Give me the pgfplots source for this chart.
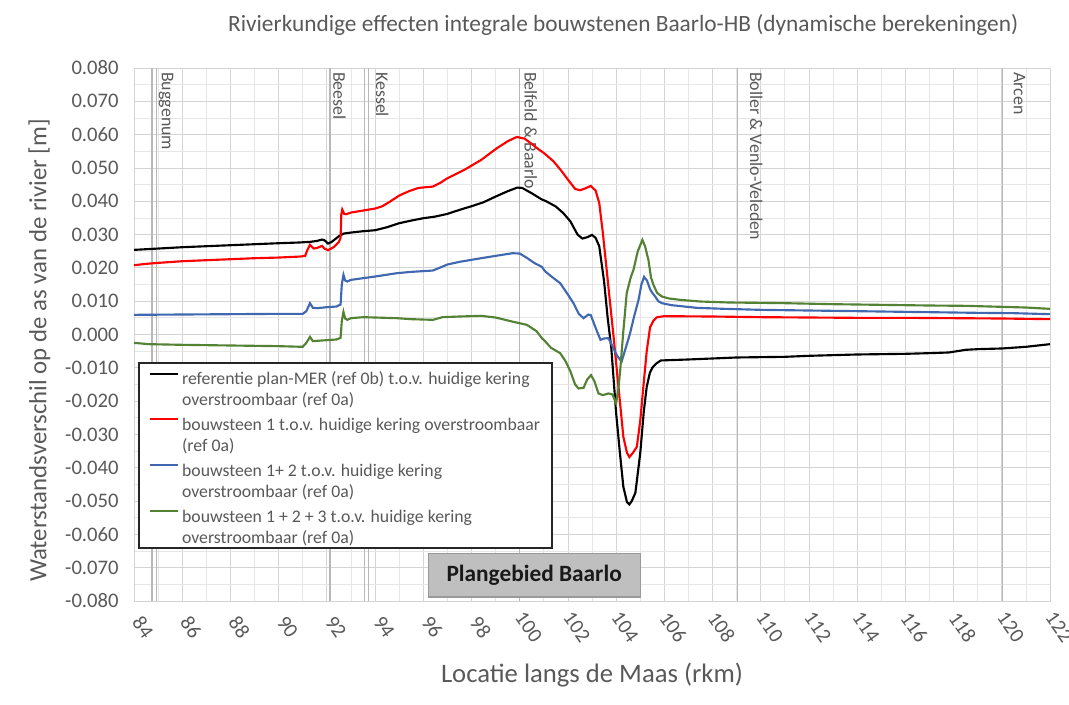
\documentclass[border=0pt]{standalone}
\usepackage{fontspec}
\setmainfont{Carlito}
\usepackage{pgfplots}
\pgfplotsset{compat=1.18}

\definecolor{txt}{HTML}{595959}
\definecolor{gridmaj}{HTML}{D4D4D4}
\definecolor{gridmin}{HTML}{E6E6E6}
\definecolor{locline}{HTML}{B8B8B8}
\definecolor{cred}{HTML}{FF0000}
\definecolor{cblue}{HTML}{4068B0}
\definecolor{cgreen}{HTML}{548235}
\definecolor{boxfill}{HTML}{BFBFBF}

\newcommand{\loc}[3]{% line position, label position, text
  \draw[locline, line width=0.9pt] (axis cs:#1,-0.08) -- (axis cs:#1,0.08);
  \node[rotate=-90, anchor=base west, text=txt, inner sep=0pt,
        font=\fontsize{13.4}{13.4}\selectfont] at (axis cs:#2,0.0788) {#3};}

\begin{document}
\begin{tikzpicture}
\begin{axis}[
  scale only axis,
  width=687pt, height=399.75pt,
  xmin=84, xmax=122, ymin=-0.08, ymax=0.08,
  xtick={84,86,...,122},
  ytick={-0.08,-0.07,-0.06,-0.05,-0.04,-0.03,-0.02,-0.01,0,0.01,0.02,0.03,0.04,0.05,0.06,0.07,0.08},
  minor x tick num=1, minor y tick num=1,
  grid=both,
  major grid style={gridmaj, line width=0.6pt},
  minor grid style={gridmin, line width=0.6pt},
  axis line style={gridmaj},
  major tick length=0pt, minor tick length=0pt,
  scaled y ticks=false,
  tick label style={text=txt, font=\fontsize{15.5}{15.5}\selectfont},
  yticklabel style={xshift=-8pt, /pgf/number format/.cd, fixed, fixed zerofill, precision=3, assume math mode=true},
  xticklabel style={xshift=6.75pt, yshift=-19.5pt, rotate=-55, anchor=center, /pgf/number format/assume math mode=true},
  title={Rivierkundige effecten integrale bouwstenen Baarlo-HB (dynamische berekeningen)},
  title style={at={(axis description cs:0.534,1)}, anchor=center, yshift=26pt, text=txt, font=\fontsize{17.5}{17.5}\selectfont},
  xlabel={Locatie langs de Maas (rkm)},
  xlabel style={at={(axis description cs:0.5,0)}, anchor=center, yshift=-55.5pt, text=txt, font=\fontsize{20}{20}\selectfont},
  ylabel={Waterstandsverschil op de as van de rivier [m]},
  ylabel style={at={(axis description cs:0,0.47)}, anchor=center, yshift=71pt, text=txt, font=\fontsize{18.6}{18.6}\selectfont},
  legend style={at={(rel axis cs:0.0055,0.4465)}, anchor=north west, draw=none, fill=none,
    text=txt, font=\fontsize{13.3}{15.75}\selectfont, inner xsep=7.5pt, inner ysep=3pt,
    cells={anchor=west}, row sep=9.5pt},
  legend image code/.code={\draw[#1, line width=1.6pt] (0pt,7.7pt) -- (21pt,7.7pt);},
]
\loc{84.75}{85.16}{}
\loc{84.95}{85.16}{Buggenum}
\loc{92.13}{92.27}{Beesel}
\loc{93.55}{94.04}{}
\loc{93.72}{94.04}{Kessel}
\loc{100.0}{100.2}{Belfeld \& Baarlo}
\loc{109.05}{109.56}{Boller \& Venlo-Veleden}
\loc{120.03}{120.5}{Arcen}

% legend frame
\draw[draw=black!85, fill=white, line width=0.9pt] (rel axis cs:0.0055,0.0994) rectangle (rel axis cs:0.4563,0.4465);

\draw[draw=black!40, fill=boxfill, line width=0.8pt] (axis cs:96.2,-0.0656) rectangle (axis cs:105.0,-0.0788);
\node[font=\bfseries\fontsize{17.5}{17.5}\selectfont, text=black!90] at (axis cs:100.6,-0.0722) {Plangebied Baarlo};

\addplot[black, line width=1.6pt] coordinates {
(84.0,0.0254)(85,0.0258)(86,0.0262)(87,0.0265)(88,0.0268)(89,0.0271)(90,0.0274)(90.8,0.0276)
(91.3,0.0278)(91.6,0.0281)(91.8,0.0285)(91.9,0.0283)(92.05,0.0273)(92.2,0.0278)(92.5,0.0295)
(92.7,0.0303)(93.0,0.0306)(93.5,0.0310)(94.0,0.0313)(94.5,0.0322)(95.0,0.0334)(95.5,0.0342)
(96.0,0.0349)(96.5,0.0354)(97.0,0.0362)(97.5,0.0374)(98.0,0.0385)(98.5,0.0397)(99.0,0.0414)
(99.5,0.0430)(99.9,0.0441)(100.1,0.0440)(100.5,0.0424)(100.9,0.0406)(101.1,0.0400)(101.5,0.0384)
(101.8,0.0365)(102.1,0.0340)(102.4,0.0300)(102.6,0.0288)(102.8,0.0292)(103.0,0.0299)(103.15,0.0290)
(103.3,0.0265)(103.5,0.0160)(103.65,0.0050)(103.8,-0.0040)(104.0,-0.0235)(104.15,-0.0350)
(104.3,-0.0457)(104.45,-0.0503)(104.55,-0.0510)(104.65,-0.0500)(104.8,-0.0475)(105.0,-0.0357)
(105.15,-0.0230)(105.27,-0.0157)(105.4,-0.0115)(105.5,-0.0100)(105.65,-0.0088)(105.85,-0.0078)
(106.2,-0.0077)(107,-0.0075)(108,-0.0072)(109,-0.0069)(110,-0.0068)(111,-0.0067)(112,-0.0064)
(113,-0.0062)(114,-0.0060)(115,-0.0059)(116,-0.0058)(117,-0.0056)(117.8,-0.0054)(118.5,-0.0046)
(119,-0.0044)(120,-0.0042)(121,-0.0037)(122,-0.0029)
};
\addlegendentry{\begin{tabular}{@{}l@{}}referentie plan-MER (ref 0b) t.o.v. huidige kering\\overstroombaar (ref 0a)\end{tabular}}

\addplot[cred, line width=1.6pt] coordinates {
(84.0,0.0208)(84.5,0.0212)(85,0.0215)(86,0.0220)(87,0.0223)(88,0.0226)(89,0.0229)(90,0.0231)
(90.9,0.0234)(91.1,0.0236)(91.2,0.0255)(91.3,0.0269)(91.45,0.0258)(91.6,0.0260)(91.8,0.0266)
(91.9,0.0258)(92.05,0.0253)(92.3,0.0263)(92.5,0.0278)(92.57,0.0290)(92.6,0.0360)(92.64,0.0375)
(92.72,0.0362)(92.8,0.0361)(93.0,0.0366)(93.5,0.0372)(94.0,0.0378)(94.3,0.0385)(94.6,0.0398)
(95.0,0.0417)(95.4,0.0430)(95.8,0.0440)(96.4,0.0444)(96.7,0.0455)(97.0,0.0469)(97.7,0.0494)
(98.4,0.0524)(99.05,0.0559)(99.5,0.0580)(99.88,0.0593)(100.2,0.0588)(100.5,0.0572)(100.8,0.0555)
(101.0,0.0545)(101.4,0.0520)(101.7,0.0494)(102.0,0.0465)(102.3,0.0437)(102.5,0.0433)(102.7,0.0438)
(102.95,0.0446)(103.15,0.0432)(103.3,0.0395)(103.45,0.0305)(103.6,0.0200)(103.75,0.0094)
(103.9,-0.0010)(104.03,-0.0107)(104.17,-0.0210)(104.3,-0.0307)(104.45,-0.0355)(104.55,-0.0368)
(104.7,-0.0355)(104.86,-0.0337)(105.0,-0.0260)(105.13,-0.0157)(105.27,-0.0050)(105.41,0.0022)
(105.55,0.0042)(105.7,0.0052)(106.0,0.0055)(108,0.0054)(110,0.0052)(112,0.0051)(114,0.0050)
(116,0.0050)(118,0.0049)(120,0.0048)(122,0.0046)
};
\addlegendentry{\begin{tabular}{@{}l@{}}bouwsteen 1 t.o.v. huidige kering overstroombaar\\(ref 0a)\end{tabular}}

\addplot[cblue, line width=1.6pt] coordinates {
(84.0,0.0059)(86,0.0060)(88,0.0061)(90,0.0062)(91.0,0.0062)(91.15,0.0070)(91.3,0.0094)(91.42,0.0080)
(91.6,0.0079)(92.0,0.0082)(92.4,0.0084)(92.57,0.0090)(92.62,0.0150)(92.69,0.0179)(92.76,0.0162)
(92.85,0.0159)(93.0,0.0164)(93.5,0.0169)(94.0,0.0174)(94.9,0.0184)(95.5,0.0188)(96.4,0.0192)
(96.6,0.0198)(97.0,0.0210)(97.5,0.0218)(98.4,0.0229)(99.0,0.0236)(99.7,0.0244)(100.0,0.0243)
(100.3,0.0230)(100.6,0.0215)(100.92,0.0203)(101.05,0.0190)(101.3,0.0175)(101.68,0.0154)
(102.0,0.0120)(102.23,0.0094)(102.45,0.0062)(102.65,0.0049)(102.85,0.0060)(102.95,0.0058)
(103.15,0.0020)(103.35,-0.0016)(103.5,-0.0012)(103.68,-0.0011)(103.85,-0.0035)(104.05,-0.0065)
(104.23,-0.0081)(104.4,-0.0040)(104.58,0.0004)(104.75,0.0055)(104.93,0.0104)(105.05,0.0150)
(105.16,0.0173)(105.28,0.0162)(105.41,0.0136)(105.5,0.0125)(105.62,0.0114)(105.75,0.0100)
(105.9,0.0094)(106.3,0.0088)(107.35,0.0080)(108.5,0.0077)(110,0.0074)(113,0.0071)(115,0.0069)
(117,0.0067)(119,0.0065)(120.5,0.0064)(122,0.0061)
};
\addlegendentry{\begin{tabular}{@{}l@{}}bouwsteen 1+ 2 t.o.v. huidige kering\\overstroombaar (ref 0a)\end{tabular}}

\addplot[cgreen, line width=1.6pt] coordinates {
(84.0,-0.0025)(84.6,-0.0029)(86,-0.0031)(88,-0.0033)(90,-0.0035)(91.0,-0.0037)(91.15,-0.0025)
(91.3,-0.0007)(91.42,-0.0020)(91.6,-0.0019)(92.0,-0.0017)(92.4,-0.0015)(92.57,-0.0010)(92.62,0.0040)
(92.69,0.0068)(92.76,0.0048)(92.85,0.0044)(93.0,0.0049)(93.5,0.0052)(94.0,0.0051)(94.9,0.0049)
(95.5,0.0046)(96.4,0.0044)(96.8,0.0052)(97.5,0.0054)(98.4,0.0056)(99.0,0.0051)(99.74,0.0038)
(100.3,0.0029)(100.7,0.0010)(100.92,-0.0011)(101.05,-0.0020)(101.3,-0.0040)(101.68,-0.0056)
(101.9,-0.0080)(102.1,-0.0110)(102.3,-0.0150)(102.44,-0.0162)(102.65,-0.0160)(102.8,-0.0135)
(102.96,-0.0122)(103.1,-0.0140)(103.27,-0.0177)(103.45,-0.0182)(103.68,-0.0177)(103.85,-0.0180)
(104.0,-0.0207)(104.1,-0.0160)(104.17,-0.0107)(104.3,0.0010)(104.44,0.0124)(104.6,0.0170)
(104.72,0.0194)(104.9,0.0250)(105.09,0.0284)(105.2,0.0265)(105.34,0.0224)(105.45,0.0170)
(105.55,0.0149)(105.7,0.0125)(105.9,0.0114)(106.2,0.0108)(106.66,0.0104)(107.5,0.0099)
(108.7,0.0096)(110,0.0095)(111,0.0094)(113,0.0091)(115,0.0089)(117,0.0087)(118.55,0.0086)
(120,0.0083)(121,0.0081)(122,0.0077)
};
\addlegendentry{\begin{tabular}{@{}l@{}}bouwsteen 1 + 2 + 3 t.o.v. huidige kering\\overstroombaar (ref 0a)\end{tabular}}
\end{axis}
\pgfresetboundingbox
\path ([shift={(-100.5pt,-77.25pt)}]current axis.south west) rectangle ([shift={(14.25pt,51pt)}]current axis.north east);
\end{tikzpicture}
\end{document}
